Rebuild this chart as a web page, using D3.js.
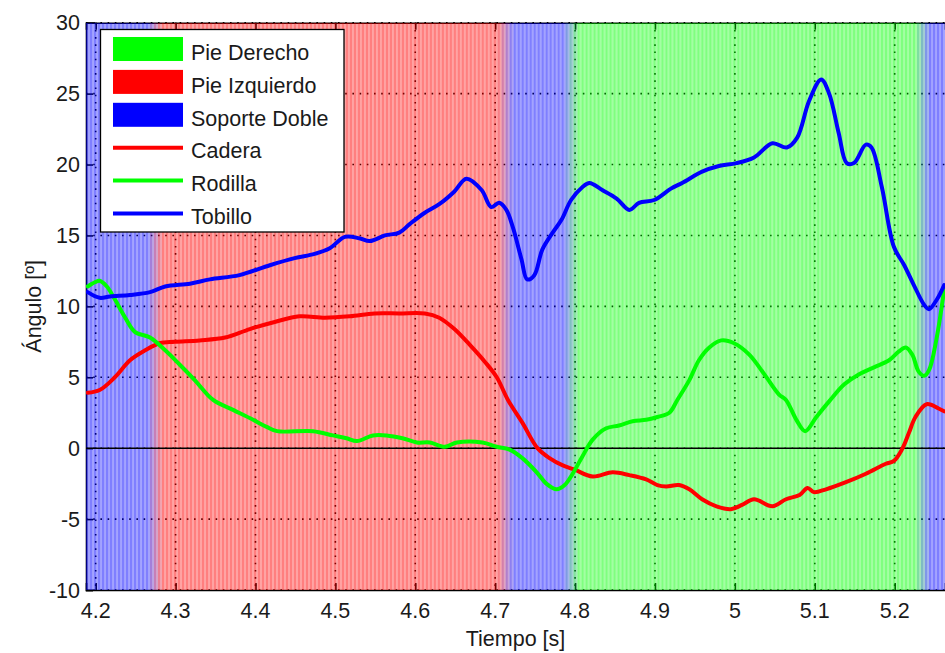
<!DOCTYPE html>
<html>
<head>
<meta charset="utf-8">
<script src="https://cdn.jsdelivr.net/npm/d3@7"></script>
<style>
  html, body { margin: 0; padding: 0; background: #ffffff; }
  svg { display: block; }
  text { font-family: "Liberation Sans", Arial, Helvetica, sans-serif; fill: #1a1a1a; }
</style>
</head>
<body>
<svg id="chart" width="945" height="653"></svg>
<script>
// ---- gait data: joint angles (degrees) over time (s) ----
const cadT = [4.190,4.205,4.224,4.243,4.262,4.280,4.299,4.330,4.362,4.393,4.424,4.455,4.487,4.518,4.549,4.580,4.612,4.630,4.649,4.668,4.687,4.702,4.716,4.734,4.753,4.768,4.784,4.799,4.822,4.847,4.868,4.889,4.903,4.914,4.930,4.943,4.959,4.977,4.995,5.009,5.024,5.047,5.064,5.081,5.091,5.099,5.114,5.139,5.164,5.189,5.199,5.209,5.218,5.226,5.240,5.255,5.262];
const cadV = [3.9,4.1,5.0,6.2,6.9,7.4,7.5,7.6,7.8,8.4,8.9,9.3,9.2,9.3,9.5,9.5,9.5,9.2,8.4,7.3,6.1,5.0,3.4,1.8,0.0,-0.7,-1.2,-1.5,-2.0,-1.7,-1.9,-2.2,-2.6,-2.7,-2.6,-2.9,-3.6,-4.1,-4.3,-4.0,-3.6,-4.1,-3.6,-3.3,-2.8,-3.1,-2.9,-2.4,-1.8,-1.1,-0.9,-0.1,1.1,2.2,3.1,2.8,2.6];

const rodT = [4.190,4.199,4.205,4.214,4.224,4.237,4.249,4.268,4.287,4.305,4.324,4.347,4.372,4.397,4.414,4.427,4.472,4.497,4.514,4.527,4.547,4.564,4.584,4.602,4.618,4.637,4.652,4.684,4.702,4.718,4.734,4.752,4.764,4.777,4.787,4.797,4.809,4.822,4.839,4.855,4.872,4.889,4.903,4.918,4.928,4.943,4.955,4.968,4.983,4.999,5.018,5.037,5.055,5.064,5.077,5.088,5.102,5.118,5.137,5.155,5.174,5.193,5.205,5.214,5.222,5.230,5.237,5.243,5.252,5.262];
const rodV = [11.4,11.7,11.8,11.4,10.5,9.2,8.2,7.8,6.9,5.9,4.8,3.4,2.7,2.0,1.5,1.2,1.2,0.9,0.7,0.5,0.9,0.9,0.7,0.4,0.4,0.1,0.4,0.4,0.1,-0.1,-0.7,-1.7,-2.5,-2.9,-2.6,-1.8,-0.6,0.6,1.4,1.6,1.9,2.0,2.2,2.5,3.4,4.8,6.2,7.1,7.6,7.4,6.6,5.2,3.8,3.4,2.0,1.2,2.2,3.3,4.5,5.2,5.7,6.2,6.8,7.1,6.6,5.4,5.1,5.5,7.6,11.2];

const tobT = [4.190,4.205,4.218,4.243,4.268,4.287,4.318,4.343,4.380,4.418,4.449,4.474,4.493,4.512,4.530,4.543,4.562,4.580,4.593,4.612,4.630,4.649,4.664,4.683,4.695,4.705,4.714,4.722,4.733,4.740,4.749,4.759,4.772,4.783,4.795,4.809,4.818,4.834,4.852,4.868,4.880,4.899,4.920,4.934,4.959,4.980,5.002,5.024,5.047,5.065,5.078,5.093,5.108,5.118,5.130,5.140,5.149,5.164,5.171,5.184,5.199,5.212,5.224,5.237,5.243,5.253,5.262];
const tobV = [11.0,10.6,10.7,10.8,11.0,11.4,11.6,11.9,12.2,12.9,13.4,13.7,14.1,14.9,14.8,14.6,15.0,15.2,15.8,16.6,17.2,18.1,19.0,18.2,17.0,17.3,16.8,15.6,13.3,11.9,12.2,14.0,15.2,16.1,17.5,18.4,18.7,18.2,17.6,16.8,17.3,17.5,18.3,18.7,19.5,19.9,20.1,20.5,21.5,21.2,21.9,24.5,26.0,25.0,22.2,20.1,20.1,21.4,21.2,18.4,14.2,12.9,11.5,10.1,9.8,10.5,11.5];

// ---- gait phases (support type) and where each one ends ----
const phaseNames = ["Soporte Doble", "Pie Izquierdo", "Soporte Doble", "Pie Derecho", "Soporte Doble"];
const phaseEnds  = [4.2742, 4.7135, 4.7955, 5.2348, 5.2630];
const sampleRate = 200; // Hz

// ---- axis ticks ----
const xTicks = [4.2, 4.3, 4.4, 4.5, 4.6, 4.7, 4.8, 4.9, 5.0, 5.1, 5.2];
const xTickLabels = ["4.2", "4.3", "4.4", "4.5", "4.6", "4.7", "4.8", "4.9", "5", "5.1", "5.2"];
const yTicks = [-10, -5, 0, 5, 10, 15, 20, 25, 30];
const yTickLabels = ["-10", "-5", "0", "5", "10", "15", "20", "25", "30"];

const seriesNames = ["Cadera", "Rodilla", "Tobillo"];
const phaseColor = { "Pie Derecho": "#00ff00", "Pie Izquierdo": "#ff0000", "Soporte Doble": "#0000ff" };
const lineColor = { "Cadera": "#ff0000", "Rodilla": "#00ff00", "Tobillo": "#0000ff" };

// ---- layout ----
const svg = d3.select("#chart");
const pLeft = 86, pRight = 945, pTop = 22.7, pBottom = 590;
const x = d3.scaleLinear().domain([4.1879, 5.2630]).range([pLeft, pRight]);
const y = d3.scaleLinear().domain([-10, 30]).range([pBottom, pTop]);
const fontSize = 21.5;

svg.append("defs").append("clipPath").attr("id", "plotClip")
  .append("rect").attr("x", pLeft).attr("y", pTop).attr("width", pRight - pLeft).attr("height", pBottom - pTop);

// grid (dotted), drawn under the translucent phase bands
const grid = svg.append("g");
grid.selectAll("line.gx").data(xTicks).join("line")
  .attr("x1", d => x(d)).attr("x2", d => x(d)).attr("y1", pTop).attr("y2", pBottom)
  .attr("stroke", "#000").attr("stroke-width", 1.6).attr("stroke-dasharray", "1.6,5.6");
grid.selectAll("line.gy").data(yTicks).join("line")
  .attr("x1", pLeft).attr("x2", pRight).attr("y1", d => y(d)).attr("y2", d => y(d))
  .attr("stroke", "#000").attr("stroke-width", 1.6).attr("stroke-dasharray", "1.6,5.6");

// axes frame and inward ticks
const frame = svg.append("g");
frame.append("g").attr("transform", `translate(0,${pBottom})`)
  .call(d3.axisBottom(x).tickValues(xTicks).tickSize(-7).tickFormat(""));
frame.append("g").attr("transform", `translate(0,${pTop})`)
  .call(d3.axisTop(x).tickValues(xTicks).tickSize(-7).tickFormat(""));
frame.append("g").attr("transform", `translate(${pLeft},0)`)
  .call(d3.axisLeft(y).tickValues(yTicks).tickSize(-7).tickFormat(""));
frame.selectAll(".domain").attr("stroke", "#000").attr("stroke-width", 1.6);
frame.selectAll(".tick line").attr("stroke", "#000").attr("stroke-width", 1.6);

// phase bands: one translucent strip per sample, colour blended at phase changes
function phaseAt(t) {
  for (let i = 0; i < phaseEnds.length; i++) if (t < phaseEnds[i]) return i;
  return phaseEnds.length - 1;
}
const blendHalf = 0.009;
function colourAt(t) {
  const i = phaseAt(t);
  const c = phaseColor[phaseNames[i]];
  if (i > 0 && t - phaseEnds[i - 1] < blendHalf) {
    const prev = phaseColor[phaseNames[i - 1]];
    const f = 0.5 + (t - phaseEnds[i - 1]) / (2 * blendHalf);
    return d3.interpolateRgb(prev, c)(f);
  }
  if (i < phaseEnds.length - 1 && phaseEnds[i] - t < blendHalf) {
    const next = phaseColor[phaseNames[i + 1]];
    const f = 0.5 - (phaseEnds[i] - t) / (2 * blendHalf);
    return d3.interpolateRgb(c, next)(f);
  }
  return c;
}
const dt = 1 / sampleRate;
const t0 = x.domain()[0];
const samples = d3.range(Math.ceil((x.domain()[1] - t0) / dt) + 1).map(i => t0 + i * dt);
const bands = svg.append("g").attr("clip-path", "url(#plotClip)");
bands.selectAll("rect.dark").data(samples).join("rect")
  .attr("x", d => x(d)).attr("y", pTop)
  .attr("width", d => (x(d + dt) - x(d)) * 0.6).attr("height", pBottom - pTop)
  .attr("fill", d => colourAt(d + dt / 2)).attr("fill-opacity", 0.5);
bands.selectAll("rect.light").data(samples).join("rect")
  .attr("x", d => x(d) + (x(d + dt) - x(d)) * 0.6).attr("y", pTop)
  .attr("width", d => (x(d + dt) - x(d)) * 0.4).attr("height", pBottom - pTop)
  .attr("fill", d => colourAt(d + dt / 2)).attr("fill-opacity", 0.36);

// zero reference line
svg.append("line").attr("x1", pLeft).attr("x2", pRight).attr("y1", y(0)).attr("y2", y(0))
  .attr("stroke", "#000").attr("stroke-width", 1.6);

// joint angle curves
const seriesData = {
  "Cadera": cadT.map((t, i) => [t, cadV[i]]),
  "Rodilla": rodT.map((t, i) => [t, rodV[i]]),
  "Tobillo": tobT.map((t, i) => [t, tobV[i]])
};
const line = d3.line().x(d => x(d[0])).y(d => y(d[1])).curve(d3.curveCatmullRom.alpha(0.5));
const curves = svg.append("g").attr("clip-path", "url(#plotClip)");
seriesNames.forEach(name => {
  curves.append("path").datum(seriesData[name]).attr("d", line)
    .attr("fill", "none").attr("stroke", lineColor[name]).attr("stroke-width", 4)
    .attr("stroke-linejoin", "round").attr("stroke-linecap", "round");
});

// tick labels
svg.append("g").selectAll("text").data(xTicks).join("text")
  .attr("x", d => x(d)).attr("y", 618).attr("text-anchor", "middle")
  .attr("font-size", fontSize).text((d, i) => xTickLabels[i]);
svg.append("g").selectAll("text").data(yTicks).join("text")
  .attr("x", 80).attr("y", d => y(d) + 7.6).attr("text-anchor", "end")
  .attr("font-size", fontSize).text((d, i) => yTickLabels[i]);

// axis titles
svg.append("text").attr("x", (pLeft + pRight) / 2).attr("y", 646).attr("text-anchor", "middle")
  .attr("font-size", fontSize).text("Tiempo [s]");
svg.append("text").attr("transform", `translate(41,${(pTop + pBottom) / 2}) rotate(-90)`)
  .attr("text-anchor", "middle").attr("font-size", fontSize).text("Ángulo [º]");

// legend
const legendItems = [
  { label: "Pie Derecho", kind: "patch", color: phaseColor["Pie Derecho"] },
  { label: "Pie Izquierdo", kind: "patch", color: phaseColor["Pie Izquierdo"] },
  { label: "Soporte Doble", kind: "patch", color: phaseColor["Soporte Doble"] },
  ...seriesNames.map(n => ({ label: n, kind: "line", color: lineColor[n] }))
];
const lg = svg.append("g");
lg.append("rect").attr("x", 100.5).attr("y", 29.5).attr("width", 243.5).attr("height", 202.5)
  .attr("fill", "#fff").attr("stroke", "#000").attr("stroke-width", 1.3);
const rowY = i => 49 + i * 32.9;
legendItems.forEach((d, i) => {
  const cy = rowY(i);
  if (d.kind === "patch") {
    lg.append("rect").attr("x", 113).attr("y", cy - 12).attr("width", 70).attr("height", 24).attr("fill", d.color);
  } else {
    lg.append("line").attr("x1", 113).attr("x2", 183).attr("y1", cy).attr("y2", cy)
      .attr("stroke", d.color).attr("stroke-width", 4);
  }
  lg.append("text").attr("x", 191).attr("y", cy + (d.kind === "patch" ? 11 : 10))
    .attr("font-size", fontSize).text(d.label);
});
</script>
</body>
</html>
